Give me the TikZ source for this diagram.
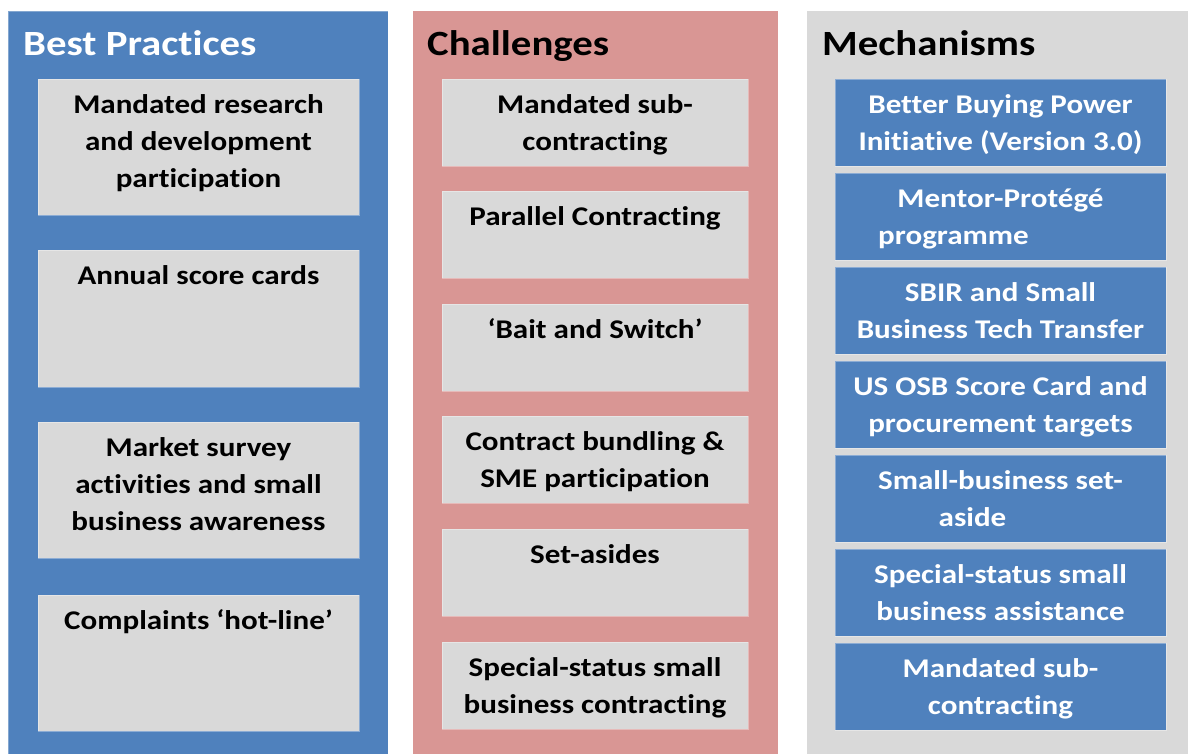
\documentclass[tikz,border=0pt]{standalone}
\usepackage{fontspec}
\setmainfont{Carlito}[FakeStretch=1.15, Ligatures=NoCommon]
\definecolor{panelblue}{HTML}{4F81BD}
\definecolor{panelpink}{HTML}{D99694}
\definecolor{panelgray}{HTML}{D9D9D9}
\definecolor{boxgray}{HTML}{D9D9D9}
\begin{document}
\begin{tikzpicture}[x=1pt,y=-1pt,
  panel/.style={anchor=north west, inner sep=0pt, outer sep=0pt},
  title/.style={anchor=base west, inner sep=0pt, font=\fontsize{35.5}{44}\selectfont\bfseries},
  graybox/.style={anchor=north west, inner sep=0pt, outer sep=0pt, fill=boxgray, draw=white, draw opacity=0.35, line width=0.8pt},
  bluebox/.style={anchor=north west, inner sep=0pt, outer sep=0pt, fill=panelblue, draw=white, draw opacity=0.35, line width=0.8pt, minimum width=331pt, minimum height=87pt},
  lbox/.style={graybox, minimum width=321pt, minimum height=136pt},
  mbox/.style={graybox, minimum width=306pt, minimum height=87pt},
  lbl/.style={anchor=base, inner sep=0pt, align=center, font=\fontsize{27}{37}\selectfont\bfseries, text=black},
  wlbl/.style={lbl, text=white}]
\useasboundingbox (0,0) rectangle (1188,753);
% panels
\node[panel, fill=panelblue, draw=white, draw opacity=0.3, line width=0.8pt, minimum width=380pt, minimum height=750pt] (p1) at (8,11) {};
\node[panel, fill=panelpink, minimum width=365pt, minimum height=750pt] (p2) at (413,11) {};
\node[panel, fill=panelgray, minimum width=390pt, minimum height=750pt] (p3) at (807,11) {};
% titles
\node[title, text=white] (t1) at (23,55) {Best Practices};
\node[title, text=black] (t2) at (427,55) {Challenges};
\node[title, text=black] (t3) at (822,55) {Mechanisms};
% left column
\node[lbox] (l1) at (38,79) {};
\node[lbox, minimum height=137pt] (l2) at (38,250) {};
\node[lbox] (l3) at (38,422) {};
\node[lbox] (l4) at (38,595) {};
\node[lbl] (l1t) at ([yshift=-108.5pt]l1.north) {Mandated research\\and development\\participation};
\node[lbl] (l2t) at ([yshift=-34.5pt]l2.north) {Annual score cards};
\node[lbl] (l3t) at ([yshift=-108.5pt]l3.north) {Market survey\\activities and small\\business awareness};
\node[lbl] (l4t) at ([yshift=-34.5pt]l4.north) {Complaints ‘hot-line’};
% middle column
\node[mbox] (m1) at (442,79) {};
\node[mbox] (m2) at (442,191) {};
\node[mbox] (m3) at (442,304) {};
\node[mbox] (m4) at (442,416) {};
\node[mbox] (m5) at (442,529) {};
\node[mbox] (m6) at (442,642) {};
\node[lbl] (m1t) at ([yshift=-71.5pt]m1.north) {Mandated sub-\\contracting};
\node[lbl] (m2t) at ([yshift=-34.5pt]m2.north) {Parallel Contracting};
\node[lbl] (m3t) at ([yshift=-34.5pt]m3.north) {‘Bait and Switch’};
\node[lbl] (m4t) at ([yshift=-71.5pt]m4.north) {Contract bundling \&\\SME participation};
\node[lbl] (m5t) at ([yshift=-34.5pt]m5.north) {Set-asides};
\node[lbl] (m6t) at ([yshift=-71.5pt]m6.north) {Special-status small\\business contracting};
% right column
\node[bluebox] (r1) at (835,79) {};
\node[bluebox] (r2) at (835,173) {};
\node[bluebox] (r3) at (835,267) {};
\node[bluebox] (r4) at (835,361) {};
\node[bluebox] (r5) at (835,455) {};
\node[bluebox] (r6) at (835,549) {};
\node[bluebox] (r7) at (835,643) {};
\node[wlbl] (r1t) at ([yshift=-71.5pt]r1.north) {Better Buying Power\\Initiative (Version 3.0)};
\node[wlbl] (r2t) at ([yshift=-71.5pt]r2.north) {Mentor-Protégé\\programme\hspace*{94pt}};
\node[wlbl] (r3t) at ([yshift=-71.5pt]r3.north) {SBIR and Small\\Business Tech Transfer};
\node[wlbl] (r4t) at ([yshift=-71.5pt]r4.north) {US OSB Score Card and\\procurement targets};
\node[wlbl] (r5t) at ([yshift=-71.5pt]r5.north) {Small-business set-\\aside\hspace*{56pt}};
\node[wlbl] (r6t) at ([yshift=-71.5pt]r6.north) {Special-status small\\business assistance};
\node[wlbl] (r7t) at ([yshift=-71.5pt]r7.north) {Mandated sub-\\contracting};
\end{tikzpicture}
\end{document}
